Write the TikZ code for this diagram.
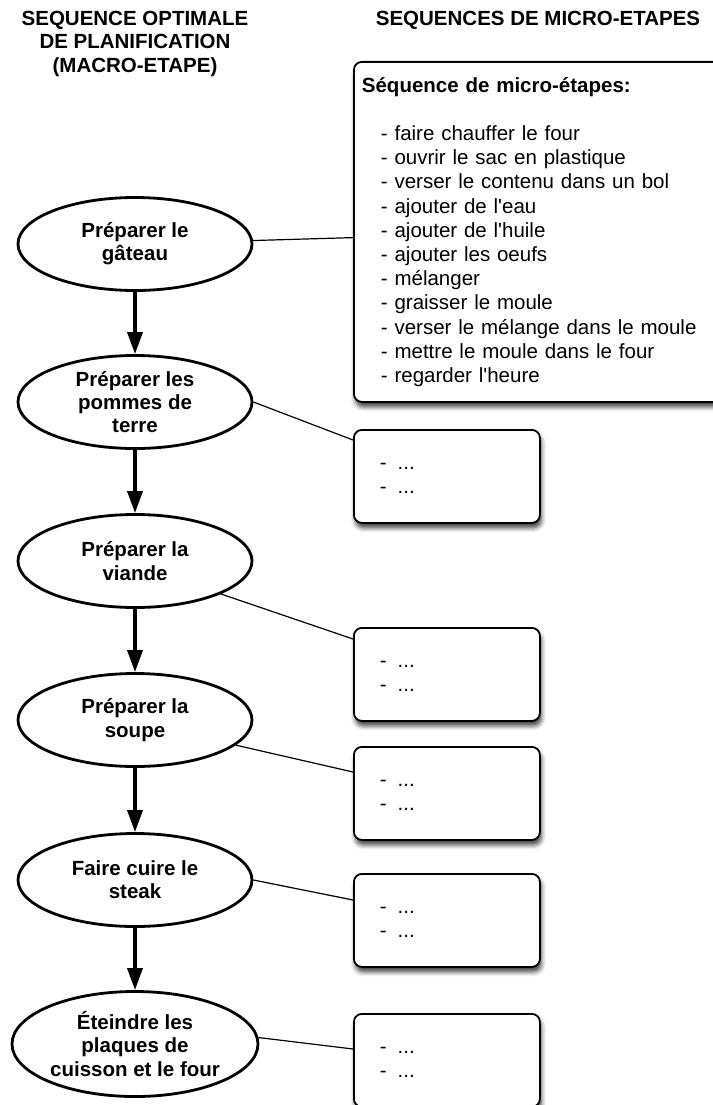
\documentclass[tikz,border=0pt]{standalone}
\usepackage{fontspec}
\setmainfont{Liberation Sans}
\usetikzlibrary{shapes.geometric,arrows.meta,shadows.blur}
\tikzstyle{macroStep}=[shape = ellipse, draw, line width = 2.8pt, minimum width = 234pt, minimum height = 93pt, inner sep = 0pt, align = center, font = \fontsize{20.5}{23.3}\selectfont\bfseries]
\tikzstyle{microBox}=[shape = rectangle, draw, line width = 1.8pt, rounded corners = 8pt, fill = white, blur shadow = {shadow xshift = 1.5pt, shadow yshift = -5pt, shadow blur radius = 4.5pt, shadow opacity = 75}, align = left, anchor = north west, font = \fontsize{20.5}{24.2}\selectfont]
\tikzstyle{columnTitle}=[align = center, font = \fontsize{20.5}{23.5}\selectfont\bfseries]

\begin{document}
\begin{tikzpicture}[x = 1pt, y = -1pt]
\tikzstyle{nextStep} = [line width = 3.5pt, -{Triangle[length = 22pt, width = 15pt]}]
\tikzstyle{link} = [line width = 1.2pt]
\tikzstyle{dotsBox} = [microBox, minimum width = 186pt, minimum height = 93pt, text width = 134pt, inner xsep = 26pt]
\useasboundingbox (0,0) rectangle (712,1105);
\node[columnTitle] (t1) at (135,43.5) {SEQUENCE OPTIMALE\\DE PLANIFICATION\\(MACRO-ETAPE)};
\node[columnTitle] (t2) at (538,20) {SEQUENCES DE MICRO-ETAPES};
\node[macroStep] (m1) at (135,244) {Préparer le\\gâteau};
\node[macroStep] (m2) at (135,402) {Préparer les\\pommes de\\terre};
\node[macroStep] (m3) at (135,561) {Préparer la\\viande};
\node[macroStep] (m4) at (135,720) {Préparer la\\soupe};
\node[macroStep] (m5) at (135,880) {Faire cuire le\\steak};
\node[macroStep, minimum width = 246pt, minimum height = 105pt] (m6) at (135,1044) {Éteindre les\\plaques de\\cuisson et le four};
\node[microBox, minimum width = 392pt, minimum height = 340pt, text width = 376pt, inner xsep = 8pt] (s1) at (353,61) {\textbf{Séquence de micro-étapes:}\\[24.2pt]
\hspace*{19pt}- faire chauffer le four\\
\hspace*{19pt}- ouvrir le sac en plastique\\
\hspace*{19pt}- verser le contenu dans un bol\\
\hspace*{19pt}- ajouter de l\textquotesingle eau\\
\hspace*{19pt}- ajouter de l\textquotesingle huile\\
\hspace*{19pt}- ajouter les oeufs\\
\hspace*{19pt}- mélanger\\
\hspace*{19pt}- graisser le moule\\
\hspace*{19pt}- verser le mélange dans le moule\\
\hspace*{19pt}- mettre le moule dans le four\\
\hspace*{19pt}- regarder l\textquotesingle heure};
\node[dotsBox] (s2) at (353,429) {\strut-\hspace{11pt}...\\-\hspace{11pt}...\strut};
\node[dotsBox] (s3) at (353,627) {\strut-\hspace{11pt}...\\-\hspace{11pt}...\strut};
\node[dotsBox] (s4) at (353,746) {\strut-\hspace{11pt}...\\-\hspace{11pt}...\strut};
\node[dotsBox] (s5) at (353,873) {\strut-\hspace{11pt}...\\-\hspace{11pt}...\strut};
\node[dotsBox] (s6) at (353,1013) {\strut-\hspace{11pt}...\\-\hspace{11pt}...\strut};
\draw[nextStep] (m1) -- (m2);
\draw[nextStep] (m2) -- (m3);
\draw[nextStep] (m3) -- (m4);
\draw[nextStep] (m4) -- (m5);
\draw[nextStep] (m5) -- (m6);
\draw[link] (m1) -- (s1);
\draw[link] (m2.east) -- ([yshift = -11pt]s2.north west);
\draw[link] (m3.-21) -- ([yshift = -12pt]s3.north west);
\draw[link] (m4.-14) -- ([yshift = -26pt]s4.north west);
\draw[link] (m5.east) -- ([yshift = -27pt]s5.north west);
\draw[link] (m6.3) -- ([yshift = -36pt]s6.north west);
%
\end{tikzpicture}
\end{document}
